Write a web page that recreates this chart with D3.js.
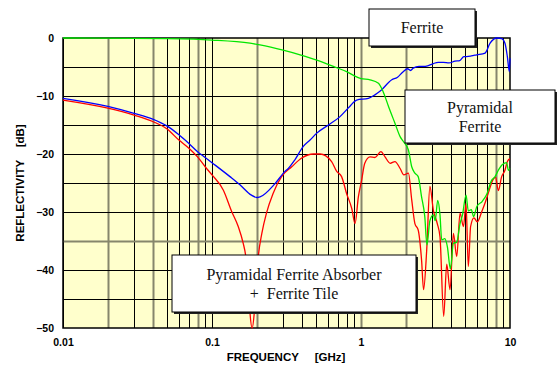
<!DOCTYPE html>
<html>
<head>
<meta charset="utf-8">
<script src="https://cdn.jsdelivr.net/npm/d3@7"></script>
<style>
  body { margin: 0; background: #fff; }
  svg { display: block; }
</style>
</head>
<body>
<div id="chart"></div>
<script>
const width = 557;
const height = 367;

// frequency [GHz], reflectivity [dB]
const ferrite = [
  [0.01, -10.4], [0.02, -11.8], [0.03, -13.0], [0.04, -14.0], [0.05, -15.2],
  [0.06, -16.7], [0.07, -18.2], [0.08, -19.6], [0.09, -20.6], [0.1, -21.5],
  [0.132, -23.9], [0.154, -25.3], [0.184, -27.1], [0.2, -27.5], [0.21, -27.4],
  [0.265, -25.1], [0.309, -23.0], [0.325, -22.5], [0.36, -21.0], [0.41, -18.7],
  [0.455, -17.6], [0.505, -16.4], [0.604, -15.0], [0.72, -13.6], [0.84, -11.8],
  [0.935, -10.7], [1.12, -10.4], [1.24, -9.8], [1.34, -9.2], [1.61, -7.2],
  [1.75, -6.8], [1.92, -5.8], [2.05, -5.3], [2.15, -5.6], [2.24, -5.2],
  [2.45, -4.9], [2.62, -4.9], [2.8, -4.8], [3.06, -4.4], [3.3, -4.2],
  [3.57, -4.2], [3.9, -4.3], [4.27, -4.0], [4.6, -3.9], [4.9, -3.2],
  [5.12, -3.2], [5.5, -3.1], [5.98, -2.9], [6.8, -2.6], [7.35, -0.9],
  [8.15, 0], [8.8, -0.1], [9.25, -0.9], [9.6, -3.2], [9.9, -5.8], [10, -3.5]
];

const pyramidal = [
  [0.01, 0], [0.05, -0.1], [0.075, -0.2], [0.1, -0.35], [0.18, -0.9],
  [0.21, -1.2], [0.3, -2.1], [0.39, -2.9], [0.505, -3.8], [0.652, -4.9],
  [0.8, -5.8], [0.935, -6.7], [1.0, -7.0], [1.15, -7.2], [1.31, -7.8],
  [1.41, -9.3], [1.53, -11.8], [1.69, -14.7], [1.83, -17.0], [1.92, -17.8],
  [2.08, -19.3], [2.19, -22.2], [2.3, -23.3], [2.42, -23.9], [2.55, -27.4],
  [2.68, -30.8], [2.77, -35.7], [2.9, -31.5], [3.06, -30.5], [3.15, -31.5],
  [3.27, -28.0], [3.39, -30.5], [3.48, -34.8], [3.65, -34.6], [3.8, -36.0],
  [3.98, -39.8], [4.17, -35.4], [4.39, -35.2], [4.62, -32.0], [4.8, -30.5],
  [5.07, -27.1], [5.25, -29.8], [5.5, -29.6], [5.7, -30.8], [6.0, -29.0],
  [6.5, -28.2], [6.97, -27.0], [7.54, -24.5], [7.9, -24.0], [8.35, -22.8],
  [8.9, -21.8], [9.5, -21.5], [9.75, -22.8], [10, -22.5]
];

const pyramidalTile = [
  [0.01, -10.7], [0.02, -12.1], [0.03, -13.3], [0.04, -14.4], [0.05, -15.7],
  [0.06, -17.6], [0.07, -19.0], [0.08, -20.5], [0.09, -22.2], [0.1, -23.6],
  [0.119, -26.2], [0.1355, -29.9], [0.15, -32.5], [0.162, -35.4], [0.168, -37.4],
  [0.175, -42.0], [0.18, -47.5], [0.186, -50], [0.192, -47.5], [0.198, -42.0],
  [0.205, -37.4], [0.216, -33.7], [0.232, -30.2], [0.257, -26.8], [0.293, -23.9],
  [0.343, -22.2], [0.4, -20.7], [0.479, -20.0], [0.531, -20.0], [0.635, -21.3],
  [0.687, -23.0], [0.741, -23.9], [0.8, -26.8], [0.867, -29.4], [0.912, -32.0],
  [0.96, -27.4], [1.01, -24.5], [1.06, -21.6], [1.15, -20.5], [1.24, -20.6],
  [1.36, -19.6], [1.45, -20.5], [1.57, -21.6], [1.69, -21.3], [1.83, -22.5],
  [1.94, -23.6], [2.08, -23.3], [2.19, -27.9], [2.3, -32.0], [2.42, -33.1],
  [2.55, -38.3], [2.63, -43.4], [2.76, -36.6], [2.9, -25.6], [3.06, -29.7],
  [3.25, -32.0], [3.39, -34.3], [3.59, -48.0], [3.76, -39.0], [3.96, -43.4],
  [4.17, -33.7], [4.39, -37.7], [4.62, -30.2], [4.87, -32.5], [5.07, -28.5],
  [5.25, -39.4], [5.44, -32.5], [5.73, -31.0], [6.03, -31.7], [6.45, -30.0],
  [6.79, -28.5], [7.26, -26.2], [7.66, -24.5], [8.0, -24.0], [8.35, -26.3],
  [8.79, -23.9], [9.25, -22.8], [9.6, -21.3], [10, -20.8]
];

const xTickValues = [0.01, 0.1, 1, 10];
const xTickLabels = ['0.01', '0.1', '1', '10'];
const yTickValues = [0, -10, -20, -30, -40, -50];
const yTickLabels = ['0', '\u221210', '\u221220', '\u221230', '\u221240', '\u221250'];

const labels = [
  { lines: ['Ferrite'], box: [369, 9, 106, 37] },
  { lines: ['Pyramidal', 'Ferrite'], box: [405, 90, 150, 53] },
  { lines: ['Pyramidal Ferrite Absorber', '+  Ferrite Tile'], box: [172, 255, 244, 57] }
];

const x = d3.scaleLog().domain([0.01, 10]).range([63, 510]);
const y = d3.scaleLinear().domain([-50, 0]).range([328, 38]);

const svg = d3.select('#chart').append('svg')
  .attr('width', width)
  .attr('height', height);

// Plot background
svg.append('rect')
  .attr('x', x(0.01)).attr('y', y(0))
  .attr('width', x(10) - x(0.01))
  .attr('height', y(-50) - y(0))
  .attr('fill', '#ffffcc');

// Grid lines: 1..9 per decade, every 5 dB
const xGrid = [];
[0.01, 0.1, 1].forEach((dec) => { for (let k = 1; k <= 9; k++) xGrid.push(+(dec * k).toPrecision(3)); });
const greyX = [0.02, 0.04, 0.08, 0.2, 1, 2, 8];
const yGrid = d3.range(-45, 0, 5);

svg.append('g').selectAll('line')
  .data(xGrid)
  .enter().append('line')
  .attr('x1', (d) => Math.round(x(d)) + 0.5)
  .attr('x2', (d) => Math.round(x(d)) + 0.5)
  .attr('y1', y(0)).attr('y2', y(-50))
  .attr('stroke', (d) => greyX.includes(d) ? '#86866c' : '#000')
  .attr('stroke-width', (d) => greyX.includes(d) ? 2 : 1);

svg.append('g').selectAll('line')
  .data(yGrid)
  .enter().append('line')
  .attr('x1', x(0.01)).attr('x2', x(10))
  .attr('y1', (d) => Math.round(y(d)) + 0.5)
  .attr('y2', (d) => Math.round(y(d)) + 0.5)
  .attr('stroke', (d) => d === -35 ? '#86866c' : '#000')
  .attr('stroke-width', (d) => d === -35 ? 2 : 1);

// Frame
svg.append('rect')
  .attr('x', x(0.01)).attr('y', y(0))
  .attr('width', x(10) - x(0.01))
  .attr('height', y(-50) - y(0))
  .attr('fill', 'none')
  .attr('stroke', '#000')
  .attr('stroke-width', 1.5);

// Curves
const line = d3.line()
  .x((d) => x(d[0]))
  .y((d) => y(d[1]))
  .curve(d3.curveMonotoneX);

[[pyramidalTile, '#ff0000'], [ferrite, '#0000ff'], [pyramidal, '#00e600']].forEach(([data, color]) => {
  svg.append('path')
    .datum(data)
    .attr('d', line)
    .attr('fill', 'none')
    .attr('stroke', color)
    .attr('stroke-width', 1.3);
});

// Axes
const xAxis = svg.append('g')
  .attr('transform', `translate(0,${y(-50)})`)
  .call(d3.axisBottom(x).tickValues(xTickValues).tickFormat((d, i) => xTickLabels[i]).tickSize(0).tickPadding(11));
const yAxis = svg.append('g')
  .attr('transform', `translate(${x(0.01)},0)`)
  .call(d3.axisLeft(y).tickValues(yTickValues).tickFormat((d, i) => yTickLabels[i]).tickSize(0).tickPadding(9));

[xAxis, yAxis].forEach((g) => {
  g.select('.domain').remove();
  g.selectAll('text')
    .attr('fill', '#000')
    .style('font-family', '"Liberation Sans", Arial, sans-serif')
    .style('font-weight', 'bold')
    .style('font-size', '10.5px');
});

// Axis titles
svg.append('text')
  .attr('x', 286).attr('y', 361)
  .attr('text-anchor', 'middle')
  .style('font-family', '"Liberation Sans", Arial, sans-serif')
  .style('font-weight', 'bold')
  .style('font-size', '11.5px')
  .style('white-space', 'pre')
  .text('FREQUENCY     [GHz]');

svg.append('text')
  .attr('transform', 'translate(24,183) rotate(-90)')
  .attr('text-anchor', 'middle')
  .style('font-family', '"Liberation Sans", Arial, sans-serif')
  .style('font-weight', 'bold')
  .style('font-size', '11.5px')
  .style('white-space', 'pre')
  .text('REFLECTIVITY    [dB]');

// Label boxes with drop shadow
labels.forEach(({ lines, box }) => {
  const [bx, by, bw, bh] = box;
  const g = svg.append('g');
  g.append('rect')
    .attr('x', bx + 2).attr('y', by + 2)
    .attr('width', bw).attr('height', bh)
    .attr('fill', '#222');
  g.append('rect')
    .attr('x', bx).attr('y', by)
    .attr('width', bw).attr('height', bh)
    .attr('fill', '#fff')
    .attr('stroke', '#000')
    .attr('stroke-width', 1);
  const lh = 19;
  const top = by + bh / 2 - (lines.length - 1) * lh / 2;
  lines.forEach((t, i) => {
    g.append('text')
      .attr('x', bx + bw / 2)
      .attr('y', top + i * lh + 5.5)
      .attr('text-anchor', 'middle')
      .style('font-family', '"Liberation Serif", "Times New Roman", serif')
      .style('font-size', '16px')
      .style('white-space', 'pre')
      .attr('fill', '#111')
      .text(t);
  });
});
</script>
</body>
</html>
